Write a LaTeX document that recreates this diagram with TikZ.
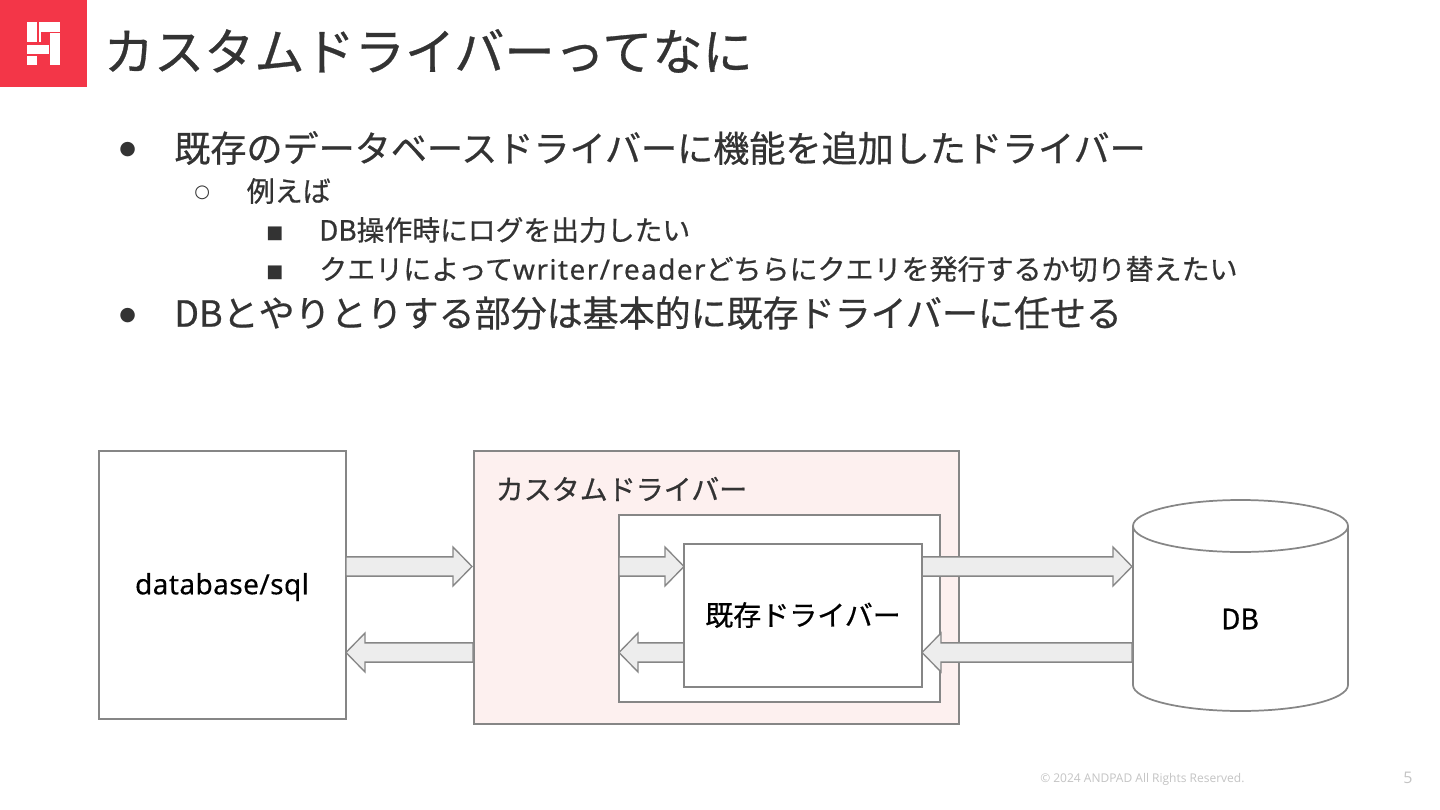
\documentclass[tikz,border=0pt]{standalone}
\usepackage{fontspec}
\usetikzlibrary{calc}
\setmainfont[FakeBold=0.6]{Noto Sans CJK JP}
\newfontfamily\opensans{Open Sans}
\newfontfamily\latinpart[FakeBold=0.3,LetterSpace=5]{Noto Sans}
\newfontfamily\sqlfont[FakeBold=0.3,LetterSpace=1.5]{Noto Sans}
\newfontfamily\dejavu{DejaVu Sans}
\definecolor{ink}{HTML}{333333}
\definecolor{edge}{HTML}{868686}
\definecolor{shaft}{HTML}{EDEDED}
\definecolor{brand}{HTML}{F33648}
\definecolor{blush}{HTML}{FDF0EF}
\definecolor{foot}{HTML}{C4C4C4}
\newcommand\pxfont[1]{\fontsize{\dimexpr #1pt*3/4\relax}{\dimexpr #1pt*3/4\relax}\selectfont}
\tikzset{
  x=0.75pt,y=-0.75pt,
  box/.style={draw=edge,line width=1.3pt,fill=white,anchor=north west,inner sep=0pt,outer sep=0pt},
  txt/.style={anchor=west,inner sep=0pt,text=ink},
  barrow/.style={draw=edge,line width=1pt,fill=shaft,line join=miter},
  whiteblock/.style={fill=white,draw=none},
}
\newcommand\blockarrow[2]{%
  \draw[barrow] let \p1=(#1),\p2=(#2),\n1={ifthenelse(\x2>\x1,14.25pt,-14.25pt)} in
    (\x1,\y1+7.2pt) -- (\x2-\n1,\y1+7.2pt) -- (\x2-\n1,\y1+14.6pt) -- (\x2,\y1)
    -- (\x2-\n1,\y1-14.6pt) -- (\x2-\n1,\y1-7.2pt) -- (\x1,\y1-7.2pt) -- cycle;}
\begin{document}
\begin{tikzpicture}
\useasboundingbox (0,0) rectangle (1440,810);
\fill[white] (0,0) rectangle (1440,810);
% logo
\fill[brand] (0,0) rectangle (87,87);
\fill[whiteblock] (27,22) rectangle (37,42);
\fill[whiteblock] (38.5,22) rectangle (60,32);
\fill[whiteblock] (38.5,32) rectangle (41,42);
\fill[whiteblock] (50,33) rectangle (60,65);
\fill[whiteblock] (27,45) rectangle (49,54);
\fill[whiteblock] (27,55.5) rectangle (37,65);
% texts
\node[txt,font=\pxfont{50.2}] (title) at (103.5,51) {カスタムドライバーってなに};
\node[txt,font=\dejavu\pxfont{19}] (b1) at (119,149.5) {●};
\node[txt,font=\pxfont{36.1}] (t1) at (174,148) {既存のデータベースドライバーに機能を追加したドライバー};
\node[txt,font=\dejavu\pxfont{18}] (b2) at (194,193) {○};
\node[txt,font=\pxfont{28}] (t2) at (246.5,191) {例えば};
\node[txt,font=\dejavu\pxfont{18}] (b3) at (266,233.5) {■};
\node[txt,font=\pxfont{27.8}] (t3) at (319,230) {DB操作時にログを出力したい};
\node[txt,font=\dejavu\pxfont{18}] (b4) at (266,272.5) {■};
\node[txt,font=\pxfont{28}] (t4) at (319,269) {クエリによって{\latinpart writer/reader}どちらにクエリを発行するか切り替えたい};
\node[txt,font=\dejavu\pxfont{19}] (b5) at (119,315.5) {●};
\node[txt,font=\pxfont{36}] (t5) at (174,313) {DBとやりとりする部分は基本的に既存ドライバーに任せる};
% boxes
\node[box,minimum width=185.25pt,minimum height=201pt] (sql) at (99,451) {};
\node[font=\sqlfont\pxfont{28},text=black,inner sep=0pt] (sqltxt) at (222,587) {database/sql};
\node[box,fill=blush,minimum width=363.75pt,minimum height=204.75pt] (custom) at (474,451) {};
\node[txt,font=\pxfont{28}] (customtxt) at (495.5,489) {カスタムドライバー};
\node[box,minimum width=240.75pt,minimum height=140.25pt] (inner) at (619,515) {};
% cylinder
\draw[draw=edge,line width=1.3pt,fill=white]
  (1133,526) -- (1133,685) arc[start angle=180,end angle=360,x radius=80.625pt,y radius=19.5pt]
  -- (1348,526) arc[start angle=0,end angle=180,x radius=80.625pt,y radius=19.5pt] -- cycle;
\draw[draw=edge,line width=1.3pt] (1133,526) arc[start angle=180,end angle=360,x radius=80.625pt,y radius=19.5pt];
\node[font=\pxfont{28},text=black,inner sep=0pt] (dbtxt) at (1240,619) {DB};
% named ends for connectors
\coordinate (sqlA) at (346,566.5);
\coordinate (custA) at (472,566.5);
\coordinate (sqlB) at (346,652.5);
\coordinate (custB) at (473,652.5);
\coordinate (inA) at (619,566.5);
\coordinate (drvA) at (684,566.5);
\coordinate (inB) at (619,652.5);
\coordinate (drvB) at (684,652.5);
\coordinate (drvC) at (922,566.5);
\coordinate (dbC) at (1132,566.5);
\coordinate (drvD) at (922,652.5);
\coordinate (dbD) at (1132,652.5);
\blockarrow{sqlA}{custA}
\blockarrow{custB}{sqlB}
\blockarrow{inA}{drvA}
\blockarrow{drvB}{inB}
\blockarrow{drvC}{dbC}
\blockarrow{dbD}{drvD}
\node[box,minimum width=178.5pt,minimum height=107.25pt] (driver) at (684,544) {};
\node[font=\pxfont{28},text=black,inner sep=0pt] (drvtxt) at (803,615) {既存ドライバー};
% footer
\node[anchor=west,inner sep=0pt,text=foot,font=\opensans\pxfont{12}] (copy) at (1040,779) {© 2024 ANDPAD All Rights Reserved.};
\node[anchor=center,inner sep=0pt,text=foot,font=\opensans\pxfont{16}] (page) at (1408,777.5) {5};
\end{tikzpicture}
\end{document}
